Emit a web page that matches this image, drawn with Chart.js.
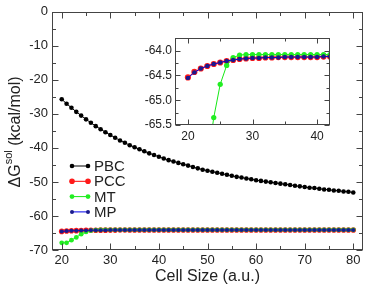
<!DOCTYPE html>
<html>
<head>
<meta charset="utf-8">
<script src="https://cdn.jsdelivr.net/npm/chart.js@4.4.0/dist/chart.umd.min.js"></script>
<style>
  html, body { margin: 0; padding: 0; background: #fff; }
  #wrap { position: relative; width: 367px; height: 286px; }
  #main { position: absolute; left: 0; top: 0; }
  #inset { position: absolute; left: 130px; top: 28px; }
</style>
</head>
<body>
<div id="wrap">
  <canvas id="main" width="367" height="286"></canvas>
  <canvas id="inset" width="210" height="120"></canvas>
</div>
<script>
// cell size (a.u.)
const cellSize = [20, 21, 22, 23, 24, 25, 26, 27, 28, 29,
    30, 31, 32, 33, 34, 35, 36, 37, 38, 39,
    40, 41, 42, 43, 44, 45, 46, 47, 48, 49,
    50, 51, 52, 53, 54, 55, 56, 57, 58, 59,
    60, 61, 62, 63, 64, 65, 66, 67, 68, 69,
    70, 71, 72, 73, 74, 75, 76, 77, 78, 79, 80];

// dG_sol (kcal/mol)
const pbc = [-25.7, -27.0, -28.2, -29.4, -30.5, -31.6, -32.6, -33.6, -34.5, -35.4,
    -36.2, -37.0, -37.8, -38.5, -39.2, -39.8, -40.4, -41.0, -41.6, -42.1,
    -42.6, -43.1, -43.6, -44.0, -44.4, -44.8, -45.2, -45.6, -46.0, -46.4,
    -46.7, -47.0, -47.3, -47.6, -47.9, -48.2, -48.5, -48.7, -49.0, -49.2,
    -49.5, -49.7, -49.9, -50.1, -50.3, -50.5, -50.7, -50.9, -51.1, -51.3,
    -51.5, -51.7, -51.8, -52.0, -52.2, -52.3, -52.5, -52.6, -52.8, -52.9, -53.1];

const pcc = [-64.54, -64.43, -64.36, -64.31, -64.27, -64.24, -64.21, -64.19, -64.17, -64.16,
    -64.15, -64.15, -64.14, -64.14, -64.13, -64.13, -64.13, -64.13, -64.13, -64.13,
    -64.13, -64.12, -64.12, -64.12, -64.12, -64.12, -64.12, -64.12, -64.12, -64.12,
    -64.12, -64.12, -64.12, -64.12, -64.12, -64.12, -64.12, -64.12, -64.12, -64.12,
    -64.12, -64.12, -64.12, -64.12, -64.12, -64.12, -64.12, -64.12, -64.12, -64.12,
    -64.12, -64.12, -64.12, -64.12, -64.12, -64.12, -64.12, -64.12, -64.12, -64.12, -64.12];

const mt = [-67.9, -67.9, -67.1, -66.3, -65.35, -64.68, -64.30, -64.14, -64.09, -64.08,
    -64.08, -64.08, -64.08, -64.08, -64.08, -64.08, -64.08, -64.08, -64.08, -64.08,
    -64.08, -64.08, -64.08, -64.08, -64.08, -64.08, -64.08, -64.08, -64.08, -64.08,
    -64.08, -64.08, -64.08, -64.08, -64.08, -64.08, -64.08, -64.08, -64.08, -64.08,
    -64.08, -64.08, -64.08, -64.08, -64.08, -64.08, -64.08, -64.08, -64.08, -64.08,
    -64.08, -64.08, -64.08, -64.08, -64.08, -64.08, -64.08, -64.08, -64.08, -64.08, -64.08];

const mp = [-64.55, -64.44, -64.36, -64.31, -64.27, -64.24, -64.21, -64.19, -64.17, -64.16,
    -64.15, -64.15, -64.14, -64.14, -64.14, -64.13, -64.13, -64.13, -64.13, -64.13,
    -64.13, -64.12, -64.12, -64.12, -64.12, -64.12, -64.12, -64.12, -64.12, -64.12,
    -64.12, -64.12, -64.12, -64.12, -64.12, -64.12, -64.12, -64.12, -64.12, -64.12,
    -64.12, -64.12, -64.12, -64.12, -64.12, -64.12, -64.12, -64.12, -64.12, -64.12,
    -64.12, -64.12, -64.12, -64.12, -64.12, -64.12, -64.12, -64.12, -64.12, -64.12, -64.12];

const FONT = "'Liberation Sans', Arial, Helvetica, sans-serif";
const AXIS = '#444';
const TEXT = '#222';

function pts(vals) {
    return cellSize.map((x, i) => ({x: x, y: vals[i]}));
}

function makeDatasets(scale) {
    return [
        {label: 'PBC', data: pts(pbc), borderColor: '#000', backgroundColor: '#000', pointRadius: 2.3 * scale, order: 3},
        {label: 'PCC', data: pts(pcc), borderColor: '#ff0000', backgroundColor: '#ff1a1a', pointRadius: 2.8 * scale, order: 2},
        {label: 'MT', data: pts(mt), borderColor: '#16e816', backgroundColor: '#22ee22', pointRadius: 2.4 * scale, order: 1},
        {label: 'MP', data: pts(mp), borderColor: '#0000ee', backgroundColor: '#1a1a8c', pointRadius: 2.0 * scale, order: 0}
    ].map(d => Object.assign(d, {
        borderWidth: 1, pointBorderWidth: 0, pointHoverRadius: d.pointRadius,
        pointBackgroundColor: d.backgroundColor, tension: 0, showLine: true
    }));
}

// frame + inward ticks on all four sides
function minorsOf(scale) {
    const v = scale.ticks.map(t => t.value);
    const step = v[1] - v[0];
    const out = [];
    for (let m = v[0] - step / 2; m <= scale.max + 1e-9; m += step) {
        if (m >= scale.min - 1e-9) out.push(m);
    }
    return out;
}

const frameTicks = {
    id: 'frameTicks',
    afterDatasetsDraw(chart, args, opts) {
        const {ctx, chartArea: a, scales: {x, y}} = chart;
        const L = Math.round(a.left) + 0.5, R = Math.round(a.right) - 0.5;
        const T = Math.round(a.top) + 0.5, B = Math.round(a.bottom) - 0.5;
        ctx.save();
        ctx.strokeStyle = AXIS;
        ctx.lineWidth = 1;
        ctx.beginPath();
        const xt = (vals, len) => vals.forEach(v => {
            const p = Math.round(x.getPixelForValue(v)) + 0.5;
            ctx.moveTo(p, B); ctx.lineTo(p, B - len);
            ctx.moveTo(p, T); ctx.lineTo(p, T + len);
        });
        const yt = (vals, len) => vals.forEach(v => {
            const p = Math.round(y.getPixelForValue(v)) + 0.5;
            ctx.moveTo(L, p); ctx.lineTo(L + len, p);
            ctx.moveTo(R, p); ctx.lineTo(R - len, p);
        });
        xt(x.ticks.map(t => t.value), opts.major);
        xt(minorsOf(x), opts.minor);
        yt(y.ticks.map(t => t.value), opts.major);
        yt(minorsOf(y), opts.minor);
        ctx.stroke();
        ctx.strokeRect(L, T, R - L, B - T);
        ctx.restore();
    }
};

// y title with superscript
const yTitle = {
    id: 'yTitle',
    afterDraw(chart, args, opts) {
        const {ctx, chartArea: a} = chart;
        const big = '16px ' + FONT, small = '11px ' + FONT;
        ctx.save();
        ctx.fillStyle = TEXT;
        ctx.textBaseline = 'alphabetic';
        ctx.font = big;
        const w1 = ctx.measureText('\u0394G').width;
        const w3 = ctx.measureText(' (kcal/mol)').width;
        ctx.font = small;
        const w2 = ctx.measureText('sol').width;
        const total = w1 + w2 + w3;
        ctx.translate(opts.x, (a.top + a.bottom) / 2 + opts.dy);
        ctx.rotate(-Math.PI / 2);
        let cx = -total / 2;
        ctx.font = big;
        ctx.fillText('\u0394G', cx, 0);
        cx += w1;
        ctx.font = small;
        ctx.fillText('sol', cx, -8);
        cx += w2;
        ctx.font = big;
        ctx.fillText(' (kcal/mol)', cx, 0);
        ctx.restore();
    }
};

// legend: line with a marker at each end
const markerLegend = {
    id: 'markerLegend',
    afterDraw(chart, args, opts) {
        const {ctx} = chart;
        ctx.save();
        ctx.font = '15px ' + FONT;
        ctx.textBaseline = 'middle';
        ctx.fillStyle = TEXT;
        chart.data.datasets.forEach((ds, i) => {
            const yy = opts.y0 + i * opts.dy;
            ctx.strokeStyle = ds.borderColor;
            ctx.lineWidth = 1;
            ctx.beginPath();
            ctx.moveTo(opts.x0, yy);
            ctx.lineTo(opts.x1, yy);
            ctx.stroke();
            ctx.fillStyle = ds.backgroundColor;
            [opts.x0, opts.x1].forEach(px => {
                ctx.beginPath();
                ctx.arc(px, yy, ds.pointRadius, 0, Math.PI * 2);
                ctx.fill();
            });
            ctx.fillStyle = TEXT;
            ctx.fillText(ds.label, opts.tx, yy + 1);
        });
        ctx.restore();
    }
};

const onlyMultiples = step => s => {
    s.ticks = s.ticks.filter(t => Math.abs(t.value / step - Math.round(t.value / step)) < 1e-6);
};

new Chart(document.getElementById('main'), {
    type: 'scatter',
    data: {datasets: makeDatasets(1)},
    plugins: [frameTicks, yTitle, markerLegend],
    options: {
        responsive: false,
        animation: false,
        devicePixelRatio: 1,
        layout: {padding: {top: 6, right: 4, left: 0, bottom: 0}},
        plugins: {
            legend: {display: false},
            tooltip: {enabled: false},
            frameTicks: {major: 6, minor: 3.5},
            yTitle: {x: 20, dy: 1},
            markerLegend: {x0: 72, x1: 88, tx: 94, y0: 166, dy: 15.3}
        },
        scales: {
            x: {
                type: 'linear', min: 18, max: 82,
                border: {display: false},
                grid: {display: false, drawTicks: false},
                ticks: {stepSize: 10, includeBounds: false, autoSkip: false, padding: 3, color: TEXT, font: {family: FONT, size: 13}},
                afterBuildTicks: onlyMultiples(10),
                afterFit: s => { s.height = 36; },
                title: {display: true, text: 'Cell Size (a.u.)', color: TEXT, font: {family: FONT, size: 16}, padding: {top: 0, bottom: 0}}
            },
            y: {
                type: 'linear', min: -70, max: 0,
                border: {display: false},
                grid: {display: false, drawTicks: false},
                ticks: {stepSize: 10, includeBounds: false, autoSkip: false, padding: 4, color: TEXT, font: {family: FONT, size: 13}},
                afterBuildTicks: onlyMultiples(10),
                afterFit: s => { s.width = 52; }
            }
        }
    }
});

new Chart(document.getElementById('inset'), {
    type: 'scatter',
    data: {datasets: makeDatasets(1.1)},
    plugins: [frameTicks],
    options: {
        responsive: false,
        animation: false,
        devicePixelRatio: 1,
        layout: {padding: {top: 10, right: 10, left: 0, bottom: 0}},
        plugins: {
            legend: {display: false},
            tooltip: {enabled: false},
            frameTicks: {major: 5, minor: 3}
        },
        scales: {
            x: {
                type: 'linear', min: 18, max: 42,
                border: {display: false},
                grid: {display: false, drawTicks: false},
                ticks: {stepSize: 10, includeBounds: false, autoSkip: false, padding: 4, color: TEXT, font: {family: FONT, size: 12}},
                afterBuildTicks: onlyMultiples(10),
                afterFit: s => { s.height = 23; }
            },
            y: {
                type: 'linear', min: -65.5, max: -63.75,
                border: {display: false},
                grid: {display: false, drawTicks: false},
                ticks: {stepSize: 0.5, includeBounds: false, autoSkip: false, padding: 3, color: TEXT, font: {family: FONT, size: 12},
                    callback: v => v.toFixed(1)},
                afterBuildTicks: onlyMultiples(0.5),
                afterFit: s => { s.width = 45; }
            }
        }
    }
});
</script>
</body>
</html>
